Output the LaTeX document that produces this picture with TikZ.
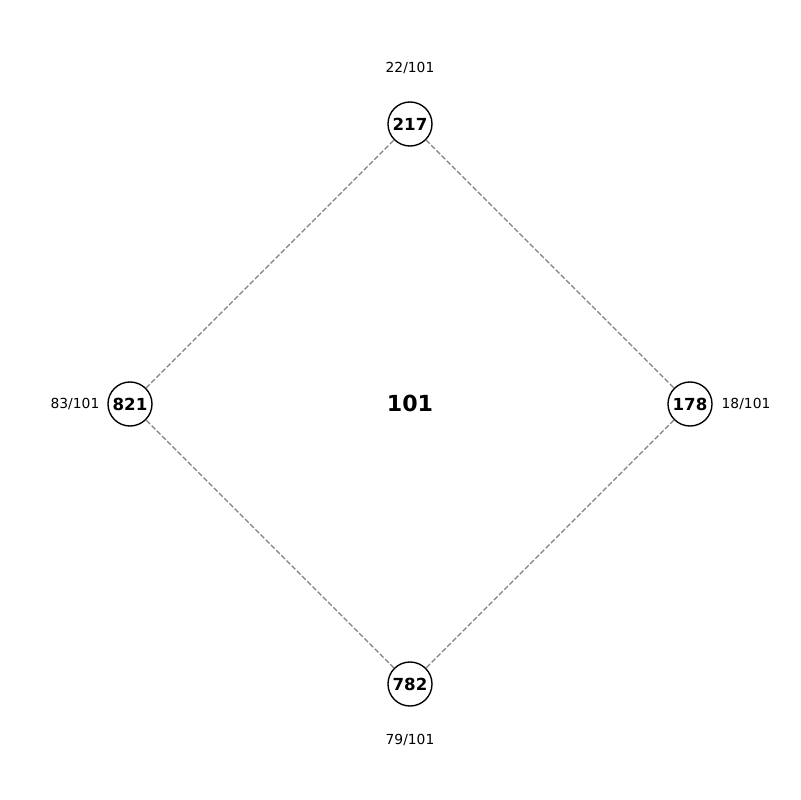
\documentclass[tikz,border=0pt]{standalone}
\usepackage{fontspec}
\setmainfont{DejaVu Sans}
\usetikzlibrary{positioning}
\tikzset{
    vertex/.style={circle, draw, line width=1pt, minimum size=0.44in, inner sep=0pt, font=\fontsize{12}{14}\selectfont\bfseries},
    ratio/.style={font=\fontsize{10}{12}\selectfont},
    edge/.style={draw=gray, line width=1pt, dash pattern=on 3.7pt off 1.6pt}
}

\begin{document}
\begin{tikzpicture}[x=0.01in, y=-0.01in]
    \useasboundingbox (0,0) rectangle (800,800);

    \node (top)    [vertex] at (410,124) {217};
    \node (left)   [vertex] at (130,404) {821};
    \node (right)  [vertex] at (690,404) {178};
    \node (bottom) [vertex] at (410,684) {782};
    \node (centre) [font=\fontsize{16}{19}\selectfont\bfseries] at (410,403) {101};

    \node (topr)    [ratio, above=0.56in of top.center, anchor=center]    {22/101};
    \node (leftr)   [ratio, left=0.55in of left.center, anchor=center]    {83/101};
    \node (rightr)  [ratio, right=0.56in of right.center, anchor=center]  {18/101};
    \node (bottomr) [ratio, below=0.56in of bottom.center, anchor=center] {79/101};

    \draw [edge] (top) -- (right);
    \draw [edge] (right) -- (bottom);
    \draw [edge] (bottom) -- (left);
    \draw [edge] (left) -- (top);
\end{tikzpicture}
\end{document}
